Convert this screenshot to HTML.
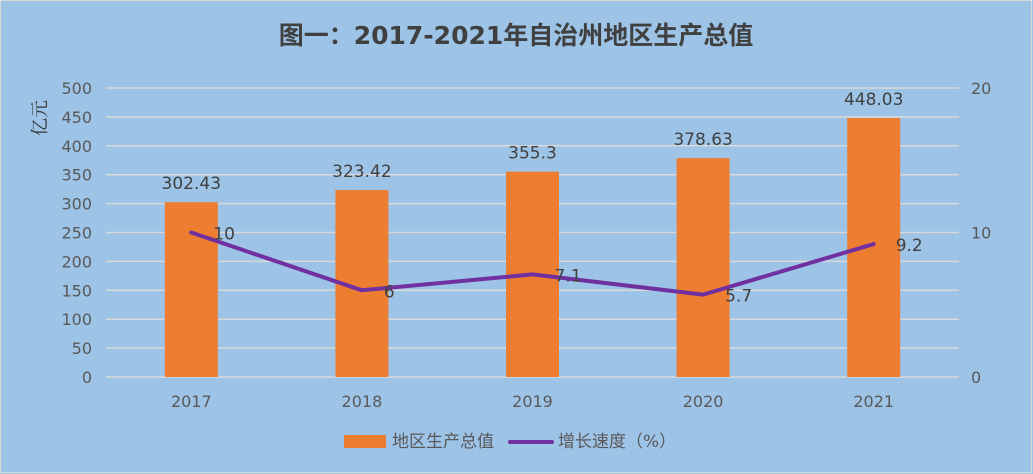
<!DOCTYPE html>
<html><head><meta charset="utf-8"><style>
html,body{margin:0;padding:0;background:#9DC3E6;}
svg{display:block;font-family:"DejaVu Sans","Noto Sans CJK SC",sans-serif;}
</style></head><body>
<svg id="c" width="1033" height="474" viewBox="0 0 1033 474">
<rect x="0" y="0" width="1033" height="474" fill="#9DC3E6"/>
<rect x="0.5" y="0.5" width="1031" height="472" fill="none" stroke="#d9d9d9"/>
<text x="516" y="44" text-anchor="middle" font-size="25" font-weight="bold" fill="#404040">图一：2017-2021年自治州地区生产总值</text>
<text transform="translate(46,118) rotate(-90)" text-anchor="middle" font-size="18" fill="#333" font-family="'Noto Serif CJK SC',serif">亿元</text>
<g id="grid"></g><g id="bars"></g><g id="line"></g><g id="labels"></g>
<g>
<rect x="344" y="435" width="42" height="13" fill="#ED7D31"/>
<text x="392" y="447" font-size="17" fill="#595959">地区生产总值</text>
<line x1="510" y1="442" x2="552" y2="442" stroke="#7030A0" stroke-width="4" stroke-linecap="round"/>
<text x="558" y="447" font-size="17" fill="#595959">增长速度（%）</text>
</g>
</svg>
<script>
const categories=["2017","2018","2019","2020","2021"];
const gdpValues=[302.43,323.42,355.3,378.63,448.03];
const growthValues=[10,6,7.1,5.7,9.2];
const leftTicks=[0,50,100,150,200,250,300,350,400,450,500];
const rightTicks=[0,10,20];
const NS="http://www.w3.org/2000/svg";
const X0=106,X1=959,Y0=377,Y1=88;
const cw=(X1-X0)/categories.length;
const xC=i=>X0+cw*(i+0.5);
const yL=v=>Y0-(v/500)*(Y0-Y1);
const yR=v=>Y0-(v/20)*(Y0-Y1);
function mk(tag,attrs,parent,txt){const e=document.createElementNS(NS,tag);for(const k in attrs)e.setAttribute(k,attrs[k]);if(txt!==undefined)e.textContent=txt;document.getElementById(parent).appendChild(e);return e;}
leftTicks.forEach(t=>{
 const l=mk("line",{x1:X0,x2:X1,y1:yL(t),y2:yL(t),stroke:"#d9d9d9","stroke-width":1.5},"grid");
 
 
 const tx=mk("text",{x:92,y:yL(t)+6,"text-anchor":"end","font-size":16,fill:"#595959"},"grid",String(t));
 
 
});
rightTicks.forEach(t=>{
 const tx=mk("text",{x:971,y:yR(t)+6,"font-size":16,fill:"#595959"},"grid",String(t));
 
 
});
const bw=53;
categories.forEach((c,i)=>{
 const b=mk("rect",{x:xC(i)-bw/2,y:yL(gdpValues[i]),width:bw,height:Y0-yL(gdpValues[i]),fill:"#ED7D31"},"bars");
 
 
 const bl=mk("text",{x:xC(i),y:yL(gdpValues[i])-13,"text-anchor":"middle","font-size":17,fill:"#404040"},"labels",String(gdpValues[i]));
 
 
 const xl=mk("text",{x:xC(i),y:407,"text-anchor":"middle","font-size":16,fill:"#595959"},"labels",c);
 
 
});
const pts=growthValues.map((v,i)=>xC(i)+","+yR(v)).join(" ");
const pl=mk("polyline",{points:pts,fill:"none",stroke:"#7030A0","stroke-width":4,"stroke-linejoin":"round","stroke-linecap":"round"},"line");


growthValues.forEach((v,i)=>{
 const t=mk("text",{x:xC(i)+22,y:yR(v)+7,"font-size":17,fill:"#404040"},"labels",String(v));
 
 
});
</script>
</body></html>
